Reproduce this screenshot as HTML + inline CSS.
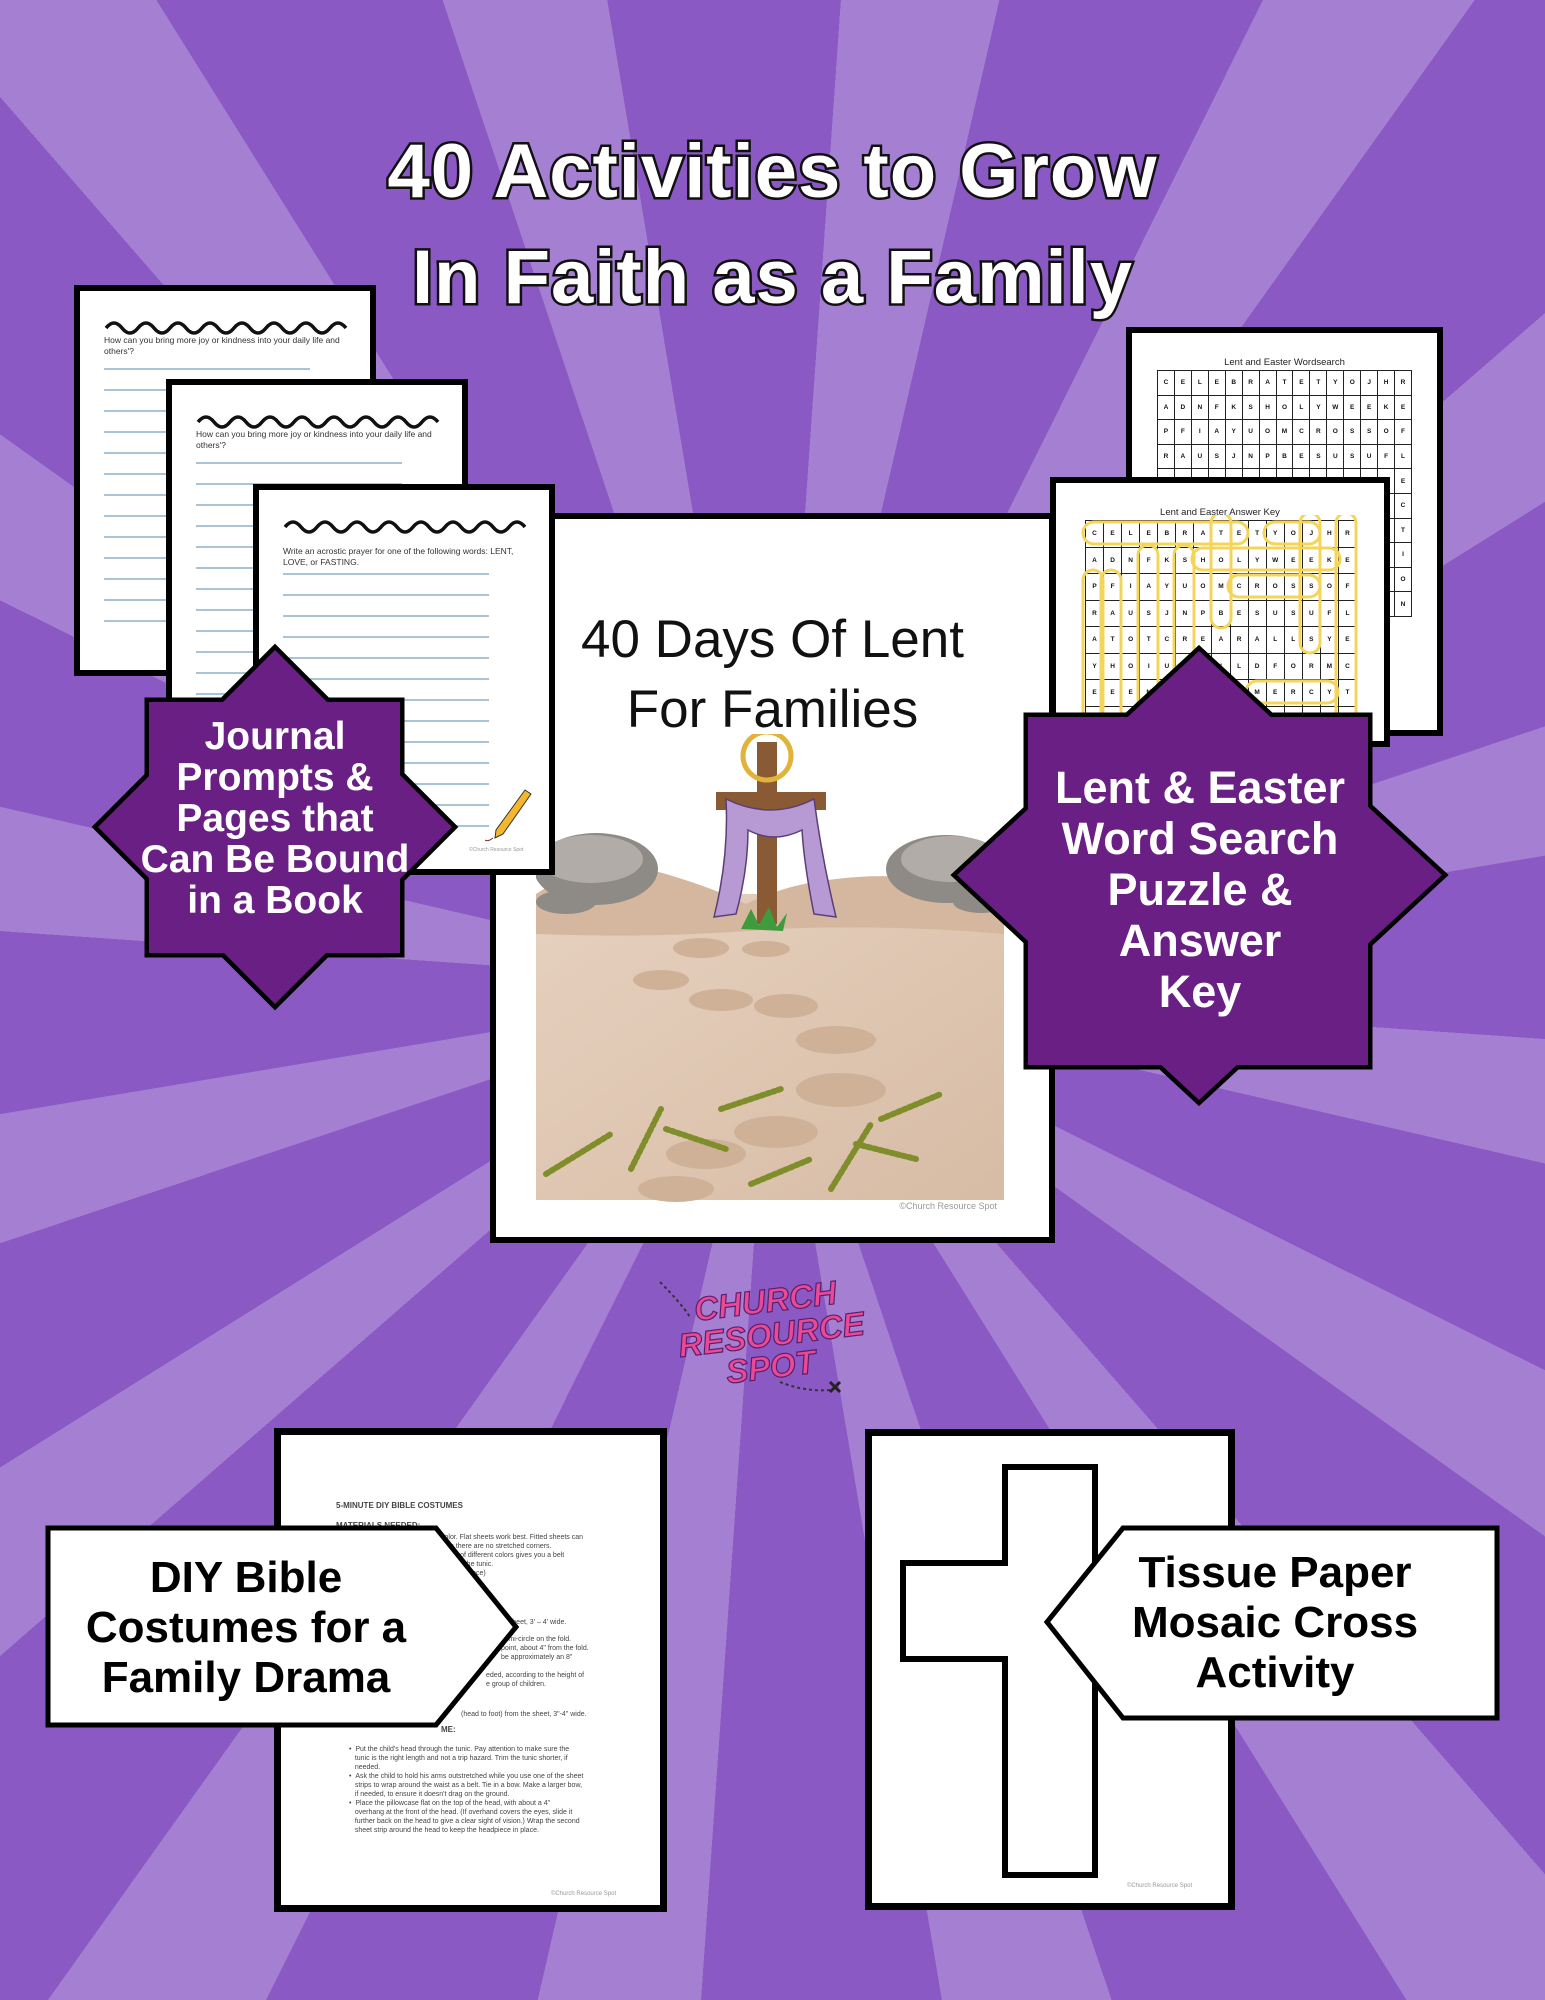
<!DOCTYPE html>
<html><head><meta charset="utf-8">
<style>
*{margin:0;padding:0;box-sizing:border-box}
body{width:1545px;height:2000px;position:relative;overflow:hidden;font-family:"Liberation Sans",sans-serif;
background:repeating-conic-gradient(from 4deg at 772px 985px,#a47fd2 0deg 9deg,#8b59c4 9deg 22.5deg);}
.abs{position:absolute}
.page{position:absolute;background:#fff;border:6px solid #000}
.title{position:absolute;left:0;width:1545px;text-align:center;color:#fff;font-weight:bold;font-size:76px;letter-spacing:1px;
-webkit-text-stroke:5px #111;paint-order:stroke fill;}
.jl{position:absolute;height:1.5px;background:#a9c3d9}
.jt{position:absolute;font-size:8.5px;color:#333;line-height:11px}
.badge{position:absolute;color:#fff;font-weight:bold;text-align:center;}
.g{position:absolute;display:grid;border-left:1px solid #222;border-top:1px solid #222}
.g span{border-right:1px solid #222;border-bottom:1px solid #222;font-size:6.5px;font-weight:bold;display:flex;align-items:center;justify-content:center;color:#111}
.dt{position:absolute;font-size:7px;color:#444;line-height:9px;white-space:nowrap}
.lbl{position:absolute;font-weight:bold;font-size:44px;line-height:50px;text-align:center;color:#000}
</style></head><body>

<div class="title" style="top:128px">40 Activities to Grow</div>
<div class="title" style="top:234px">In Faith as a Family</div>

<!-- Journal page 1 -->
<div class="page" style="left:74px;top:285px;width:302px;height:391px">
<svg class="abs" style="left:24px;top:28px" width="244" height="16"><path d="M2,9 q8,-10 16,0 t16,0 t16,0 t16,0 t16,0 t16,0 t16,0 t16,0 t16,0 t16,0 t16,0 t16,0 t16,0 t16,0 t16,0" fill="none" stroke="#111" stroke-width="3.5"/></svg>
<div class="jt" style="left:24px;top:44px;width:250px">How can you bring more joy or kindness into your daily life and others'?</div>
</div>
<div class="jl" style="left:104px;top:368px;width:206px"></div>
<div class="jl" style="left:104px;top:389px;width:206px"></div><div class="jl" style="left:104px;top:410px;width:206px"></div><div class="jl" style="left:104px;top:431px;width:206px"></div><div class="jl" style="left:104px;top:452px;width:206px"></div><div class="jl" style="left:104px;top:473px;width:206px"></div><div class="jl" style="left:104px;top:494px;width:206px"></div><div class="jl" style="left:104px;top:515px;width:206px"></div><div class="jl" style="left:104px;top:536px;width:206px"></div><div class="jl" style="left:104px;top:557px;width:206px"></div><div class="jl" style="left:104px;top:578px;width:206px"></div><div class="jl" style="left:104px;top:599px;width:206px"></div><div class="jl" style="left:104px;top:620px;width:206px"></div>

<!-- Journal page 2 -->
<div class="page" style="left:166px;top:379px;width:302px;height:400px">
<svg class="abs" style="left:24px;top:28px" width="244" height="16"><path d="M2,9 q8,-10 16,0 t16,0 t16,0 t16,0 t16,0 t16,0 t16,0 t16,0 t16,0 t16,0 t16,0 t16,0 t16,0 t16,0 t16,0" fill="none" stroke="#111" stroke-width="3.5"/></svg>
<div class="jt" style="left:24px;top:44px;width:250px">How can you bring more joy or kindness into your daily life and others'?</div>
<div class="jl" style="left:24px;top:77px;width:206px"></div><div class="jl" style="left:24px;top:98px;width:206px"></div><div class="jl" style="left:24px;top:119px;width:206px"></div><div class="jl" style="left:24px;top:140px;width:206px"></div><div class="jl" style="left:24px;top:161px;width:206px"></div><div class="jl" style="left:24px;top:182px;width:206px"></div><div class="jl" style="left:24px;top:203px;width:206px"></div><div class="jl" style="left:24px;top:224px;width:206px"></div><div class="jl" style="left:24px;top:245px;width:206px"></div><div class="jl" style="left:24px;top:266px;width:206px"></div><div class="jl" style="left:24px;top:287px;width:206px"></div><div class="jl" style="left:24px;top:308px;width:206px"></div>
</div>

<!-- Main page -->
<div class="page" style="left:490px;top:513px;width:565px;height:730px">
<div class="abs" style="left:0;top:86px;width:553px;text-align:center;font-size:53px;line-height:70px;color:#111">40 Days Of Lent<br>For Families</div>
<svg class="abs" style="left:40px;top:215px" width="475" height="470" viewBox="0 0 475 470">
<defs><linearGradient id="sd" x1="0" y1="0" x2="1" y2="1"><stop offset="0" stop-color="#e6d1bf"/><stop offset="1" stop-color="#d7bca5"/></linearGradient></defs>
<rect x="0" y="160" width="468" height="306" fill="url(#sd)"/>
<path d="M0,160 q60,-40 130,-20 q50,15 80,30 q40,-20 90,-25 q80,-10 168,15 v40 q-120,-10 -230,-5 q-120,10 -238,5z" fill="#d4b79e"/>
<ellipse cx="60" cy="135" rx="62" ry="36" fill="#8e8a86"/><ellipse cx="55" cy="125" rx="52" ry="24" fill="#b1aca7"/>
<ellipse cx="30" cy="168" rx="30" ry="12" fill="#8e8a86"/>
<ellipse cx="410" cy="135" rx="60" ry="34" fill="#8e8a86"/><ellipse cx="415" cy="125" rx="50" ry="23" fill="#b1aca7"/>
<ellipse cx="445" cy="168" rx="28" ry="11" fill="#8e8a86"/>
<rect x="221" y="8" width="20" height="182" fill="#8a5a35"/>
<rect x="180" y="58" width="110" height="18" fill="#8a5a35"/>
<circle cx="231" cy="22" r="24" fill="none" stroke="#e2b33b" stroke-width="5"/>
<path d="M190,65 q45,22 88,0 q8,60 22,118 l-22,-3 q-10,-50 -12,-84 q-28,14 -54,0 q0,40 -12,84 l-22,3 q15,-60 12,-118z" fill="#b79ad3" stroke="#5a3e78" stroke-width="1.5"/>
<path d="M205,195 l10,-20 l8,16 l10,-18 l8,20 l10,-14 l-4,18z" fill="#3f9b3c"/>
<g fill="#cfb198"><ellipse cx="165" cy="214" rx="28" ry="10"/><ellipse cx="230" cy="215" rx="24" ry="8"/><ellipse cx="125" cy="246" rx="28" ry="10"/><ellipse cx="185" cy="266" rx="32" ry="11"/><ellipse cx="250" cy="272" rx="32" ry="12"/><ellipse cx="300" cy="306" rx="40" ry="14"/><ellipse cx="305" cy="356" rx="45" ry="17"/><ellipse cx="240" cy="398" rx="42" ry="16"/><ellipse cx="170" cy="420" rx="40" ry="15"/><ellipse cx="140" cy="455" rx="38" ry="13"/></g>
<g stroke="#7f8d2a" stroke-width="6" stroke-linecap="round" stroke-dasharray="3 3"><path d="M10,440 l65,-40"/><path d="M95,435 l30,-60"/><path d="M130,395 l60,20"/><path d="M185,375 l60,-20"/><path d="M215,450 l60,-25"/><path d="M295,455 l40,-65"/><path d="M320,410 l60,15"/><path d="M345,385 l60,-25"/></g>
</svg>
<div class="abs" style="right:52px;top:682px;font-size:9px;color:#999">©Church Resource Spot</div>
</div>

<!-- Journal page 3 -->
<div class="page" style="left:253px;top:484px;width:302px;height:391px">
<svg class="abs" style="left:24px;top:28px" width="244" height="16"><path d="M2,9 q8,-10 16,0 t16,0 t16,0 t16,0 t16,0 t16,0 t16,0 t16,0 t16,0 t16,0 t16,0 t16,0 t16,0 t16,0 t16,0" fill="none" stroke="#111" stroke-width="3.5"/></svg>
<div class="jt" style="left:24px;top:56px;width:250px">Write an acrostic prayer for one of the following words:  LENT, LOVE, or FASTING.</div>
<div class="jl" style="left:24px;top:83px;width:206px"></div><div class="jl" style="left:24px;top:104px;width:206px"></div><div class="jl" style="left:24px;top:125px;width:206px"></div><div class="jl" style="left:24px;top:146px;width:206px"></div><div class="jl" style="left:24px;top:167px;width:206px"></div><div class="jl" style="left:24px;top:188px;width:206px"></div><div class="jl" style="left:24px;top:209px;width:206px"></div><div class="jl" style="left:24px;top:230px;width:206px"></div><div class="jl" style="left:24px;top:251px;width:206px"></div><div class="jl" style="left:24px;top:272px;width:206px"></div><div class="jl" style="left:24px;top:293px;width:206px"></div><div class="jl" style="left:24px;top:314px;width:206px"></div><div class="jl" style="left:24px;top:335px;width:206px"></div>
<svg class="abs" style="left:226px;top:296px" width="50" height="60"><path d="M40,4 l6,4 l-28,40 l-8,4 l1,-8z" fill="#f3b62c" stroke="#333" stroke-width="1"/><path d="M8,52 q-5,4 -8,2" stroke="#733" fill="none"/></svg>
<div class="abs" style="left:210px;top:357px;font-size:5px;color:#999">©Church Resource Spot</div>
</div>

<!-- Word search back -->
<div class="page" style="left:1126px;top:327px;width:317px;height:409px">
<div class="abs" style="left:0;top:24px;width:305px;text-align:center;font-size:9.5px;color:#222">Lent and Easter Wordsearch</div>
</div>
<div class="g" style="left:1157px;top:370px;width:255px;grid-template-columns:repeat(15,1fr);grid-auto-rows:24.6px">
<span>C</span><span>E</span><span>L</span><span>E</span><span>B</span><span>R</span><span>A</span><span>T</span><span>E</span><span>T</span><span>Y</span><span>O</span><span>J</span><span>H</span><span>R</span>
<span>A</span><span>D</span><span>N</span><span>F</span><span>K</span><span>S</span><span>H</span><span>O</span><span>L</span><span>Y</span><span>W</span><span>E</span><span>E</span><span>K</span><span>E</span>
<span>P</span><span>F</span><span>I</span><span>A</span><span>Y</span><span>U</span><span>O</span><span>M</span><span>C</span><span>R</span><span>O</span><span>S</span><span>S</span><span>O</span><span>F</span>
<span>R</span><span>A</span><span>U</span><span>S</span><span>J</span><span>N</span><span>P</span><span>B</span><span>E</span><span>S</span><span>U</span><span>S</span><span>U</span><span>F</span><span>L</span>
<span></span><span></span><span></span><span></span><span></span><span></span><span></span><span></span><span></span><span></span><span></span><span></span><span></span><span></span><span>E</span>
<span></span><span></span><span></span><span></span><span></span><span></span><span></span><span></span><span></span><span></span><span></span><span></span><span></span><span></span><span>C</span>
<span></span><span></span><span></span><span></span><span></span><span></span><span></span><span></span><span></span><span></span><span></span><span></span><span></span><span></span><span>T</span>
<span></span><span></span><span></span><span></span><span></span><span></span><span></span><span></span><span></span><span></span><span></span><span></span><span></span><span></span><span>I</span>
<span></span><span></span><span></span><span></span><span></span><span></span><span></span><span></span><span></span><span></span><span></span><span></span><span></span><span></span><span>O</span>
<span></span><span></span><span></span><span></span><span></span><span></span><span></span><span></span><span></span><span></span><span></span><span></span><span></span><span></span><span>N</span>
</div>

<!-- Answer key -->
<div class="page" style="left:1050px;top:477px;width:340px;height:270px">
<div class="abs" style="left:0;top:24px;width:328px;text-align:center;font-size:9.5px;color:#222">Lent and Easter Answer Key</div>
</div>
<div class="g" style="left:1085px;top:520px;width:272px;grid-template-columns:repeat(15,1fr);grid-auto-rows:26.5px">
<span>C</span><span>E</span><span>L</span><span>E</span><span>B</span><span>R</span><span>A</span><span>T</span><span>E</span><span>T</span><span>Y</span><span>O</span><span>J</span><span>H</span><span>R</span>
<span>A</span><span>D</span><span>N</span><span>F</span><span>K</span><span>S</span><span>H</span><span>O</span><span>L</span><span>Y</span><span>W</span><span>E</span><span>E</span><span>K</span><span>E</span>
<span>P</span><span>F</span><span>I</span><span>A</span><span>Y</span><span>U</span><span>O</span><span>M</span><span>C</span><span>R</span><span>O</span><span>S</span><span>S</span><span>O</span><span>F</span>
<span>R</span><span>A</span><span>U</span><span>S</span><span>J</span><span>N</span><span>P</span><span>B</span><span>E</span><span>S</span><span>U</span><span>S</span><span>U</span><span>F</span><span>L</span>
<span>A</span><span>T</span><span>O</span><span>T</span><span>C</span><span>R</span><span>E</span><span>A</span><span>R</span><span>A</span><span>L</span><span>L</span><span>S</span><span>Y</span><span>E</span>
<span>Y</span><span>H</span><span>O</span><span>I</span><span>U</span><span>C</span><span>H</span><span>I</span><span>L</span><span>D</span><span>F</span><span>O</span><span>R</span><span>M</span><span>C</span>
<span>E</span><span>E</span><span>E</span><span>N</span><span>D</span><span>L</span><span>E</span><span>A</span><span>O</span><span>M</span><span>E</span><span>R</span><span>C</span><span>Y</span><span>T</span>
<span></span><span></span><span></span><span></span><span></span><span></span><span></span><span></span><span></span><span></span><span></span><span></span><span></span><span></span><span></span>
</div>
<svg class="abs" style="left:1078px;top:515px" width="290" height="225"><g fill="none" stroke="#f5d45a" stroke-width="3">
<rect x="5" y="7" width="165" height="22" rx="11"/>
<rect x="186" y="7" width="56" height="22" rx="11"/>
<rect x="114" y="33" width="148" height="22" rx="11"/>
<rect x="150" y="60" width="92" height="22" rx="11"/>
<rect x="168" y="166" width="92" height="22" rx="11"/>
<rect x="258" y="-2" width="20" height="222" rx="10"/>
<rect x="222" y="-2" width="20" height="140" rx="10"/>
<rect x="133" y="-2" width="20" height="115" rx="10"/>
<rect x="5" y="55" width="20" height="170" rx="10"/>
<rect x="23" y="55" width="20" height="170" rx="10"/>
<rect x="60" y="30" width="20" height="195" rx="10"/>
<rect x="96" y="30" width="20" height="195" rx="10"/>
</g></svg>

<!-- Stars -->
<svg class="abs" style="left:0;top:0" width="1545" height="1200">
<g stroke="#000" stroke-width="9" stroke-linejoin="miter">
<rect x="149" y="702" width="251" height="251" fill="#6a1f85"/>
<polygon points="275,650 452,827 275,1004 98,827" fill="#6a1f85"/>
<rect x="1028" y="717" width="340" height="348" fill="#6a1f85"/>
<polygon points="1199,651 1442,875 1199,1100 957,875" fill="#6a1f85"/>
</g>
<g fill="#6a1f85">
<rect x="149" y="702" width="251" height="251"/>
<polygon points="275,650 452,827 275,1004 98,827"/>
<rect x="1028" y="717" width="340" height="348"/>
<polygon points="1199,651 1442,875 1199,1100 957,875"/>
</g></svg>
<div class="badge" style="left:125px;top:716px;width:300px;font-size:39px;line-height:41px">Journal<br>Prompts &amp;<br>Pages that<br>Can Be Bound<br>in a Book</div>
<div class="badge" style="left:1000px;top:762px;width:400px;font-size:45px;line-height:51px">Lent &amp; Easter<br>Word Search<br>Puzzle &amp;<br>Answer<br>Key</div>

<!-- Logo -->
<svg class="abs" style="left:650px;top:1270px" width="240" height="135">
<path d="M10,12 q20,20 30,35" stroke="#333" stroke-width="2" stroke-dasharray="3 3" fill="none"/>
<path d="M130,112 q25,10 50,8" stroke="#333" stroke-width="2" stroke-dasharray="3 3" fill="none"/>
<path d="M180,112 l10,10 M190,112 l-10,10" stroke="#222" stroke-width="3"/>
<g font-family="Liberation Sans" font-weight="bold" font-style="italic" font-size="33" fill="#ea4a94" stroke="#5a1d6e" stroke-width="1.2" transform="rotate(-7 120 65)">
<text x="48" y="42">CHURCH</text><text x="28" y="76">RESOURCE</text><text x="72" y="108">SPOT</text></g>
</svg>

<!-- Bottom left doc -->
<div class="page" style="left:274px;top:1428px;width:393px;height:484px;border-width:7px">
<div class="dt" style="left:55px;top:66px;font-weight:bold;font-size:8px">5-MINUTE DIY BIBLE COSTUMES</div>
<div class="dt" style="left:55px;top:86px;font-weight:bold;font-size:8px">MATERIALS NEEDED:</div>
<div class="dt" style="left:160px;top:98px">color. Flat sheets work best. Fitted sheets can<br>s so there are no stretched corners.<br>sheet of different colors gives you a belt<br>nt from the tunic.<br>for headpiece)</div>
<div class="dt" style="left:220px;top:183px">edsheet, 3' – 4' wide.</div>
<div class="dt" style="left:220px;top:200px">semi-circle on the fold.<br>point, about 4" from the fold.<br>be approximately an 8"</div>
<div class="dt" style="left:205px;top:236px">eded, according to the height of<br>e group of children.</div>
<div class="dt" style="left:180px;top:275px">(head to foot) from the sheet, 3"-4" wide.</div>
<div class="dt" style="left:160px;top:290px;font-weight:bold;font-size:8px">ME:</div>
<div class="dt" style="left:68px;top:310px">•&nbsp;&nbsp;Put the child's head through the tunic. Pay attention to make sure the<br>&nbsp;&nbsp;&nbsp;tunic is the right length and not a trip hazard. Trim the tunic shorter, if<br>&nbsp;&nbsp;&nbsp;needed.<br>•&nbsp;&nbsp;Ask the child to hold his arms outstretched while you use one of the sheet<br>&nbsp;&nbsp;&nbsp;strips to wrap around the waist as a belt. Tie in a bow. Make a larger bow,<br>&nbsp;&nbsp;&nbsp;if needed, to ensure it doesn't drag on the ground.<br>•&nbsp;&nbsp;Place the pillowcase flat on the top of the head, with about a 4"<br>&nbsp;&nbsp;&nbsp;overhang at the front of the head. (If overhand covers the eyes, slide it<br>&nbsp;&nbsp;&nbsp;further back on the head to give a clear sight of vision.) Wrap the second<br>&nbsp;&nbsp;&nbsp;sheet strip around the head to keep the headpiece in place.</div>
<div class="dt" style="left:270px;top:455px;font-size:6px;color:#999">©Church Resource Spot</div>
</div>

<!-- Bottom right doc -->
<div class="page" style="left:865px;top:1429px;width:370px;height:481px;border-width:7px">
<svg class="abs" style="left:0;top:0" width="360" height="470">
<path d="M133,31 h90 v96 h102 v96 h-102 v216 h-90 v-216 h-102 v-96 h102z" fill="#fff" stroke="#000" stroke-width="6"/>
</svg>
<div class="dt" style="left:255px;top:446px;font-size:6px;color:#999">©Church Resource Spot</div>
</div>

<!-- Arrow labels -->
<svg class="abs" style="left:0;top:1500px" width="1545" height="260">
<polygon points="48,28 436,28 516,127 436,225 48,225" fill="#fff" stroke="#000" stroke-width="5"/>
<polygon points="1497,28 1123,28 1047,122 1123,218 1497,218" fill="#fff" stroke="#000" stroke-width="5"/>
</svg>
<div class="lbl" style="left:48px;top:1553px;width:396px">DIY Bible<br>Costumes for a<br>Family Drama</div>
<div class="lbl" style="left:1110px;top:1548px;width:330px">Tissue Paper<br>Mosaic Cross<br>Activity</div>

</body></html>
